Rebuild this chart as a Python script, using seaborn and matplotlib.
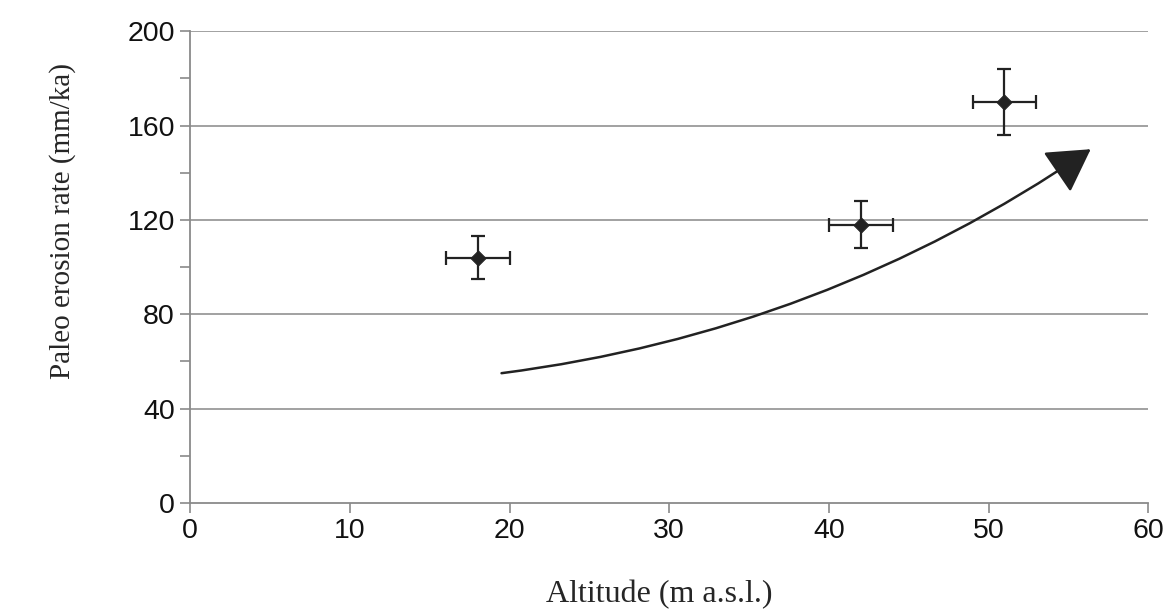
import matplotlib
matplotlib.use("Agg")
import matplotlib.pyplot as plt
from matplotlib.ticker import MultipleLocator
import seaborn as sns
import pandas as pd

# Data
altitude = [18, 42, 51]
erosion_rate = [104, 118, 170]
altitude_err = [2, 2, 2]
erosion_err = [9, 10, 14]

# Trend arrow (annotation), start and end in data units
arrow_start = (19.5, 55)
arrow_end = (56.4, 150)

df = pd.DataFrame({"altitude": altitude, "rate": erosion_rate})

sns.set_style("white")
plt.rcParams["font.family"] = ["Liberation Sans", "DejaVu Sans"]

fig = plt.figure(figsize=(11.74, 6.14), dpi=100)
ax = fig.add_axes([0.162, 0.181, 0.816, 0.768])

#grid lines
for y in [40, 80, 120, 160, 200]:
    ax.axhline(y, color="#9a9a9a", lw=1.3, zorder=0)

#error bars then markers
ax.errorbar(altitude, erosion_rate, xerr=altitude_err, yerr=erosion_err,
            fmt="none", ecolor="#222222", elinewidth=1.6, capsize=5, capthick=1.6, zorder=2)
sns.scatterplot(data=df, x="altitude", y="rate", marker="D", s=60, color="#222222",
                edgecolor="#222222", ax=ax, zorder=3)

#trend arrow
ax.annotate("", xy=arrow_end, xytext=arrow_start,
            arrowprops=dict(arrowstyle="-|>,head_length=0.95,head_width=0.55",
                            connectionstyle="arc3,rad=0.12",
                            color="#222222", lw=1.8, mutation_scale=28,
                            shrinkA=0, shrinkB=0),
            zorder=4)

ax.set_xlim(0, 60)
ax.set_ylim(0, 200)
ax.xaxis.set_major_locator(MultipleLocator(10))
ax.yaxis.set_major_locator(MultipleLocator(40))
ax.yaxis.set_minor_locator(MultipleLocator(20))

for s in ["top", "right"]:
    ax.spines[s].set_visible(False)
for s in ["left", "bottom"]:
    ax.spines[s].set_color("#8a8a8a")
    ax.spines[s].set_linewidth(1.3)

ax.tick_params(axis="both", which="major", direction="out", length=7, width=1.2,
               color="#8a8a8a", labelsize=20.5, labelcolor="#111111", pad=4)
ax.tick_params(axis="y", which="minor", direction="out", length=7, width=1.2,
               color="#8a8a8a", left=True)
ax.tick_params(axis="x", which="major", bottom=True)
ax.tick_params(axis="y", which="major", left=True)

ax.set_xlabel("Altitude (m a.s.l.)", family="Liberation Serif", fontsize=23)
ax.set_ylabel("Paleo erosion rate (mm/ka)", family="Liberation Serif", fontsize=21)
ax.xaxis.set_label_coords(0.49, -0.163)
ax.yaxis.set_label_coords(-0.133, 0.597)
ax.yaxis.label.set_verticalalignment("center")

fig.savefig("out.png", dpi=100)
